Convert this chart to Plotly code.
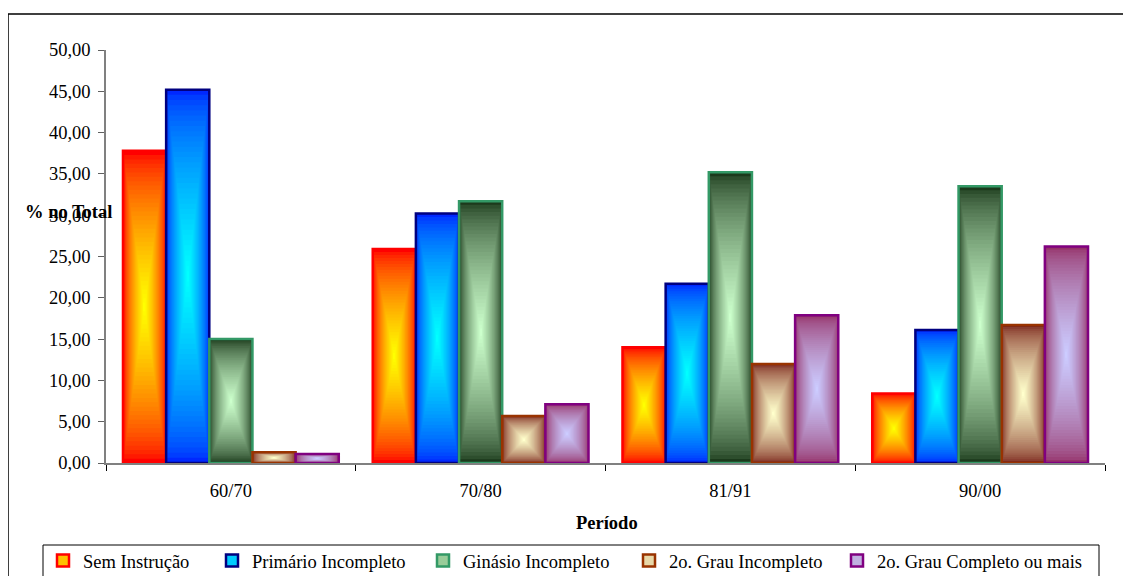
import plotly.graph_objects as go

# ---- data ----
periodos = ["60/70", "70/80", "81/91", "90/00"]
sem_instrucao = [37.8, 25.9, 14.0, 8.4]
primario_incompleto = [45.2, 30.2, 21.7, 16.1]
ginasio_incompleto = [15.0, 31.7, 35.2, 33.5]
segundo_grau_incompleto = [1.3, 5.7, 12.0, 16.7]
segundo_grau_completo = [1.1, 7.1, 17.9, 26.2]
y_ticks = [0, 5, 10, 15, 20, 25, 30, 35, 40, 45, 50]

series = [
    ("Sem Instrução", sem_instrucao),
    ("Primário Incompleto", primario_incompleto),
    ("Ginásio Incompleto", ginasio_incompleto),
    ("2o. Grau Incompleto", segundo_grau_incompleto),
    ("2o. Grau Completo ou mais", segundo_grau_completo),
]

# styles: (edge colour, centre colour, border colour, legend fill)
styles = [
    ((255, 0, 0), (255, 255, 0), "#FF0000", "#FFC000"),
    ((0, 40, 255), (0, 255, 255), "#000080", "#00CCFF"),
    ((28, 58, 28), (204, 255, 204), "#339966", "#99CC99"),
    ((125, 40, 30), (255, 255, 204), "#993300", "#E8D8A8"),
    ((150, 50, 105), (204, 204, 255), "#800080", "#C0B0E0"),
]

FONT = "Liberation Serif"
FS = 18.5
N_LAYERS = 36
BAR_W = 0.1728
GROUP_W = BAR_W * len(series)

# the page body adds an 8 px margin; geometry below is in window pixels
D = 8
W, H = 1131 - D, 576 - D
L, R, T, B = 106 - D, 26, 50 - D, 113
pw, ph = W - L - R, H - T - B


def px_x(px):
    return (px - D - L) / pw


def px_y(py):
    return (H - B - (py - D)) / ph


def mix(c1, c2, t):
    return "rgb(%d,%d,%d)" % tuple(round(a + (b - a) * t) for a, b in zip(c1, c2))


fig = go.Figure()

# legend entries, each in its own legend box so spacing can follow the reference
legend_text_x = [82, 251, 462, 668, 876]
legend_names = ["legend", "legend2", "legend3", "legend4", "legend5"]
for j, ((name, vals), (edge, centre, border, legfill)) in enumerate(zip(series, styles)):
    fig.add_trace(go.Bar(
        x=periodos, y=[None] * len(periodos), name=name,
        marker=dict(color=legfill, line=dict(color=border, width=2.5)),
        showlegend=True, hoverinfo="skip", legend=legend_names[j],
    ))

# gradient bars built from concentric layers ("from centre" shading)
for i, ((name, vals), (edge, centre, border, legfill)) in enumerate(zip(series, styles)):
    off0 = -GROUP_W / 2 + i * BAR_W
    for k in range(N_LAYERS):
        t = (k / (N_LAYERS - 1)) ** 0.65
        frac = k / N_LAYERS
        fig.add_trace(go.Bar(
            x=periodos,
            y=[v * (1 - frac) for v in vals],
            base=[v * frac / 2 for v in vals],
            offset=off0 + BAR_W * frac / 2,
            width=BAR_W * (1 - frac),
            marker=dict(color=mix(edge, centre, t), line=dict(width=0)),
            showlegend=False, hoverinfo="skip",
        ))
    # border
    fig.add_trace(go.Bar(
        x=periodos, y=vals, offset=off0, width=BAR_W,
        marker=dict(color="rgba(0,0,0,0)", line=dict(color=border, width=2.5)),
        showlegend=False, hovertemplate=name + ": %{y:.2f}<extra></extra>",
    ))

legend_common = dict(
    orientation="h", xanchor="left", yanchor="middle", y=px_y(561),
    borderwidth=0, bgcolor="rgba(0,0,0,0)", itemwidth=30,
    font=dict(family=FONT, size=FS, color="black"),
)
layout_legends = {}
for j, lname in enumerate(legend_names):
    layout_legends[lname] = dict(legend_common, x=px_x(legend_text_x[j] - 39))

fig.update_layout(
    width=W, height=H,
    margin=dict(l=L, r=R, t=T, b=B, autoexpand=False),
    barmode="overlay",
    paper_bgcolor="white", plot_bgcolor="white",
    separators=",.",
    font=dict(family=FONT, size=FS, color="black"),
    showlegend=True,
    xaxis=dict(
        type="category", showline=True, linecolor="#808080", linewidth=1.5,
        ticks="outside", tickson="boundaries", ticklen=6, tickcolor="black",
        showgrid=False, ticklabelstandoff=10,
        tickfont=dict(family=FONT, size=FS, color="black"),
    ),
    yaxis=dict(
        range=[0, 50], tickvals=y_ticks, tickformat=".2f",
        showline=True, linecolor="#808080", linewidth=1.5,
        ticks="outside", ticklen=6, tickcolor="#606060",
        showgrid=False, zeroline=False, ticklabelstandoff=4,
        tickfont=dict(family=FONT, size=FS, color="black"),
    ),
    annotations=[
        dict(text="<b>% no Total</b>", xref="paper", yref="paper",
             x=px_x(23), y=px_y(212), xanchor="left", yanchor="middle",
             showarrow=False, font=dict(family=FONT, size=FS, color="black")),
        dict(text="<b>Período</b>", xref="paper", yref="paper",
             x=px_x(607), y=px_y(523), xanchor="center", yanchor="middle",
             showarrow=False, font=dict(family=FONT, size=FS, color="black")),
    ],
    shapes=[
        dict(type="rect", xref="paper", yref="paper",
             x0=px_x(8), x1=px_x(1140), y0=px_y(14), y1=px_y(590),
             line=dict(color="black", width=1.5), fillcolor="rgba(0,0,0,0)",
             layer="below"),
        dict(type="rect", xref="paper", yref="paper",
             x0=px_x(43), x1=px_x(1099), y0=px_y(545), y1=px_y(590),
             line=dict(color="black", width=1), fillcolor="white",
             layer="below"),
    ],
    **layout_legends,
)

fig.write_html("out.html")
